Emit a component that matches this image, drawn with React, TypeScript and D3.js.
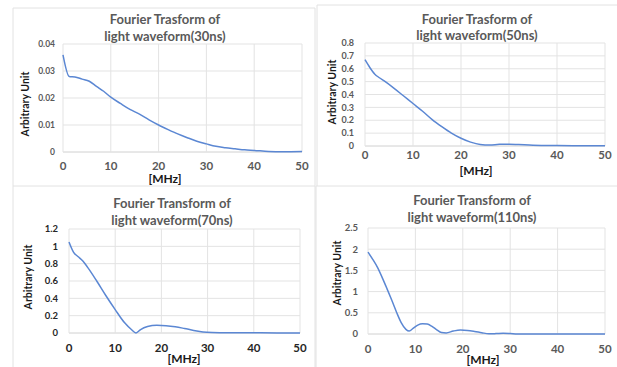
import React from "react";
import * as d3 from "d3";

// ---- data ----
const freq30 = [0, 1.3, 2.5, 4, 5.5, 7, 8.5, 10, 12, 14, 16, 18, 20, 22, 24, 26, 28, 30, 32, 34, 36, 38, 40, 43, 46, 50];
const amp30 = [0.036, 0.028, 0.0278, 0.027, 0.0262, 0.0243, 0.0225, 0.0203, 0.018, 0.0158, 0.014, 0.0119, 0.01, 0.0083, 0.0067, 0.0053, 0.004, 0.003, 0.0021, 0.0016, 0.0012, 0.0008, 0.0006, 0.0002, 0.0001, 0.0002];

const freq50 = [0, 1, 2, 3, 4, 6, 8, 10, 12, 14, 16, 18, 20, 22, 24, 26, 28, 30, 32, 35, 40, 45, 50];
const amp50 = [0.67, 0.61, 0.56, 0.53, 0.505, 0.45, 0.39, 0.33, 0.27, 0.205, 0.15, 0.1, 0.06, 0.03, 0.012, 0.008, 0.013, 0.014, 0.011, 0.006, 0.003, 0.002, 0.001];

const freq70 = [0, 1, 2, 3, 4, 6, 8, 10, 12, 13.5, 14.5, 15.5, 17, 19, 21, 23, 25, 27, 29, 31, 35, 40, 45, 50];
const amp70 = [1.05, 0.93, 0.88, 0.83, 0.76, 0.6, 0.43, 0.27, 0.12, 0.04, 0.0, 0.04, 0.075, 0.09, 0.085, 0.072, 0.052, 0.03, 0.012, 0.006, 0.003, 0.002, 0.001, 0.0];

const freq110 = [0, 1, 2, 3, 4, 5, 6, 7, 8, 8.7, 9.5, 10.5, 11.5, 12.5, 13.5, 14.5, 15.5, 16.5, 18, 19.5, 21, 22.5, 24, 25.5, 27, 28.5, 30, 31.5, 35, 40, 45, 50];
const amp110 = [1.93, 1.76, 1.57, 1.33, 1.07, 0.8, 0.52, 0.27, 0.11, 0.07, 0.13, 0.21, 0.24, 0.235, 0.18, 0.1, 0.035, 0.025, 0.07, 0.095, 0.085, 0.06, 0.03, 0.005, 0.01, 0.018, 0.012, 0.002, 0.001, 0.0, 0.0, 0.0];

const xTicks = [0, 10, 20, 30, 40, 50];
const yTicks30 = [0, 0.01, 0.02, 0.03, 0.04];
const yTicks50 = [0, 0.1, 0.2, 0.3, 0.4, 0.5, 0.6, 0.7, 0.8];
const yTicks70 = [0, 0.2, 0.4, 0.6, 0.8, 1, 1.2];
const yTicks110 = [0, 0.5, 1, 1.5, 2, 2.5];

const titles30 = ["Fourier Trasform of", "light waveform(30ns)"];
const titles50 = ["Fourier Trasform of", "light waveform(50ns)"];
const titles70 = ["Fourier Transform of", "light waveform(70ns)"];
const titles110 = ["Fourier Transform of", "light waveform(110ns)"];

const FONT = "Lato, 'Open Sans', sans-serif";
const LINE = "#5b87d3";
const GRID = "#e3e3e3";

type PanelProps = {
  freq: number[];
  amp: number[];
  yTicks: number[];
  titles: string[];
  box: { l: number; r: number; t: number; b: number };
  titleX: number;
  titleY: number[];
  yLabX: number;
  yLabY: number;
  yTickX: number;
  xTickY: number;
  mhzX: number;
  mhzY: number;
  yFont: number;
  tickColor: string;
};

const Panel = (p: PanelProps) => {
  const x = d3.scaleLinear().domain([0, 50]).range([p.box.l, p.box.r]);
  const y = d3
    .scaleLinear()
    .domain([0, p.yTicks[p.yTicks.length - 1]])
    .range([p.box.b, p.box.t]);
  const pts = p.freq.map((f, i) => [f, p.amp[i]] as [number, number]);
  const line = d3
    .line<[number, number]>()
    .x((d) => x(d[0]))
    .y((d) => y(d[1]))
    .curve(d3.curveMonotoneX);

  return (
    <g fontFamily={FONT}>
      {/* grid */}
      {p.yTicks.map((t) => (
        <line key={"h" + t} x1={p.box.l} x2={p.box.r} y1={y(t)} y2={y(t)} stroke={t === 0 ? "#d0d0d0" : GRID} />
      ))}
      {xTicks.map((t) => (
        <line key={"v" + t} x1={x(t)} x2={x(t)} y1={p.box.t} y2={p.box.b} stroke={GRID} />
      ))}
      <path d={line(pts) || ""} fill="none" stroke={LINE} strokeWidth={1.5} />
      {/* tick labels */}
      {p.yTicks.map((t) => (
        <text key={"yl" + t} x={p.yTickX} y={y(t)} dy="0.35em" textAnchor="end" fontSize={p.yFont} fontWeight="bold" fill={p.tickColor}>
          {t}
        </text>
      ))}
      {xTicks.map((t) => (
        <text key={"xl" + t} x={x(t)} y={p.xTickY} dy="0.35em" textAnchor="middle" fontSize={11.5} fontWeight="bold" fill={p.tickColor}>
          {t}
        </text>
      ))}
      {/* titles */}
      {p.titles.map((s, i) => (
        <text key={"t" + i} x={p.titleX} y={p.titleY[i]} dy="0.35em" textAnchor="middle" fontSize={13} fontWeight="bold" fill="#595959">
          {s}
        </text>
      ))}
      <text
        transform={`translate(${p.yLabX},${p.yLabY}) rotate(-90)`}
        dy="0.35em"
        textAnchor="middle"
        fontSize={10.5}
        fontWeight="bold"
        fill="#1a1a1a"
      >
        Arbitrary Unit
      </text>
      <text x={p.mhzX} y={p.mhzY} dy="0.35em" textAnchor="middle" fontSize={12} fontWeight="bold" fill="#1a1a1a">
        [MHz]
      </text>
    </g>
  );
};

const App = () => {
  return (
    <svg width={617} height={367} style={{ position: "absolute", left: 0, top: 0, background: "#fff" }}>
      <rect width={617} height={367} fill="#fff" />
      {/* chart frames */}
      <path d="M13,186 V8 H315" fill="none" stroke="#e2e2e2" />
      <path d="M315,8 V367" fill="none" stroke="#e2e2e2" />
      <path d="M317,186 V5 H617" fill="none" stroke="#e2e2e2" />
      <path d="M13,367 V186 H315 M316,367 V186 H617" fill="none" stroke="#e2e2e2" />

      <Panel
        freq={freq30}
        amp={amp30}
        yTicks={yTicks30}
        titles={titles30}
        box={{ l: 63, r: 302, t: 44, b: 152 }}
        titleX={165}
        titleY={[19, 36]}
        yLabX={25}
        yLabY={104}
        yTickX={55}
        xTickY={166}
        mhzX={165}
        mhzY={179}
        yFont={8.5}
        tickColor="#595959"
      />
      <Panel
        freq={freq50}
        amp={amp50}
        yTicks={yTicks50}
        titles={titles50}
        box={{ l: 365, r: 605, t: 43, b: 146 }}
        titleX={477}
        titleY={[19, 35]}
        yLabX={332}
        yLabY={92}
        yTickX={354}
        xTickY={155}
        mhzX={476}
        mhzY={171}
        yFont={9}
        tickColor="#595959"
      />
      <Panel
        freq={freq70}
        amp={amp70}
        yTicks={yTicks70}
        titles={titles70}
        box={{ l: 69, r: 300, t: 229, b: 333 }}
        titleX={172}
        titleY={[203, 220]}
        yLabX={28}
        yLabY={277}
        yTickX={58}
        xTickY={348}
        mhzX={184}
        mhzY={359}
        yFont={9.5}
        tickColor="#262626"
      />
      <Panel
        freq={freq110}
        amp={amp110}
        yTicks={yTicks110}
        titles={titles110}
        box={{ l: 368, r: 605, t: 228, b: 334 }}
        titleX={472}
        titleY={[200, 217]}
        yLabX={337}
        yLabY={273}
        yTickX={358}
        xTickY={349}
        mhzX={483}
        mhzY={360}
        yFont={9.5}
        tickColor="#595959"
      />
    </svg>
  );
};

export default App;
